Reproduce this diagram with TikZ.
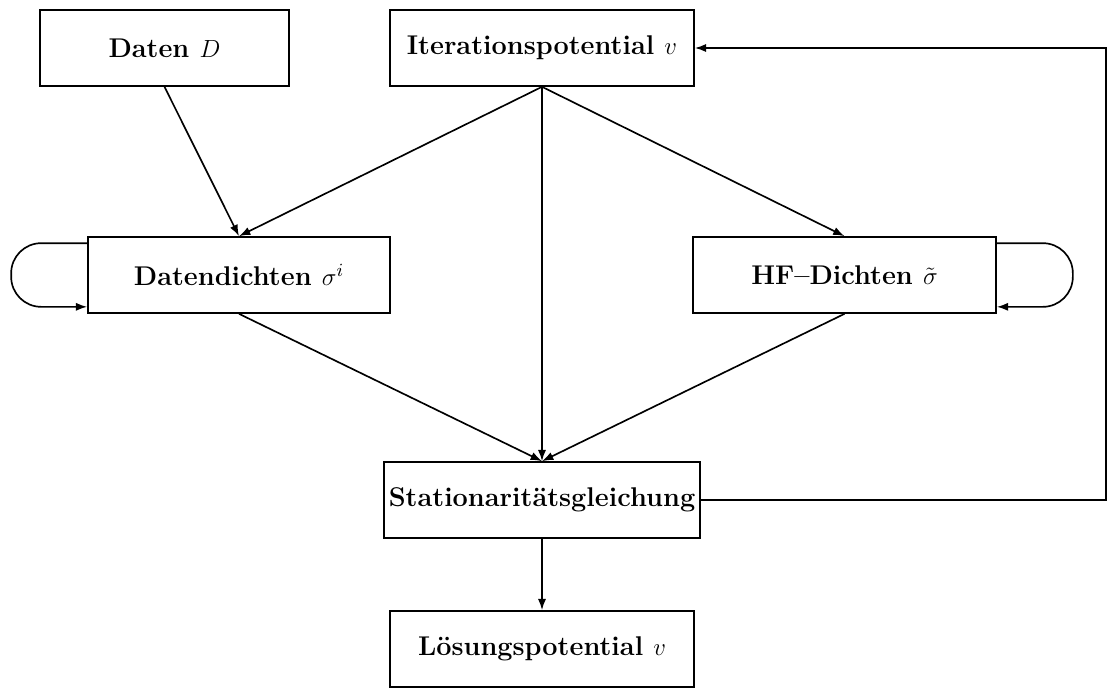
\documentclass[tikz,border=0pt]{standalone}
\usetikzlibrary{arrows.meta}

\begin{document}
\begin{tikzpicture}[x=0.017cm, y=-0.017cm]
\def\u{0.017cm}
\tikzset{box/.style={draw, thick, minimum height=76*\u, inner sep=0pt,
    font=\fontsize{13.1pt}{15pt}\selectfont\bfseries},
  conn/.style={-{Latex[length=5.5pt,width=4pt]}, thick}}
\useasboundingbox (0,0) rectangle (1108,687);
% Boxes
\node[box, minimum width=249*\u] (daten) at (164.5,48) {Daten $D$};
\node[box, minimum width=304*\u] (iter) at (542,48) {Iterationspotential $v$};
\node[box, minimum width=302*\u] (dd) at (239,275) {Datendichten $\sigma^i$};
\node[box, minimum width=303*\u] (hf) at (844.5,275) {HF--Dichten $\tilde\sigma$};
\node[box, minimum width=316*\u] (stat) at (542,500) {Stationarit\"atsgleichung};
\node[box, minimum width=304*\u] (loes) at (542,649) {L\"osungspotential $v$};
\coordinate (rb) at (1106,48);
% Arrows
\draw[conn] (daten.south) -- (dd.north);
\foreach \t in {dd,hf,stat}
  \draw[conn] (iter.south) -- (\t.north);
\foreach \s in {dd,hf}
  \draw[conn] (\s.south) -- (stat.north);
\draw[conn] (stat.south) -- (loes.north);
\draw[conn] (stat.east) -| (rb) -- (iter.east);
% Loops
\draw[conn, rounded corners=30*\u] ([yshift=-7*\u]dd.north west) -- ++(-76,0)
  |- ([yshift=7*\u]dd.south west);
\draw[conn, rounded corners=30*\u] ([yshift=-7*\u]hf.north east) -- ++(76,0)
  |- ([yshift=7*\u]hf.south east);
\end{tikzpicture}
\end{document}
